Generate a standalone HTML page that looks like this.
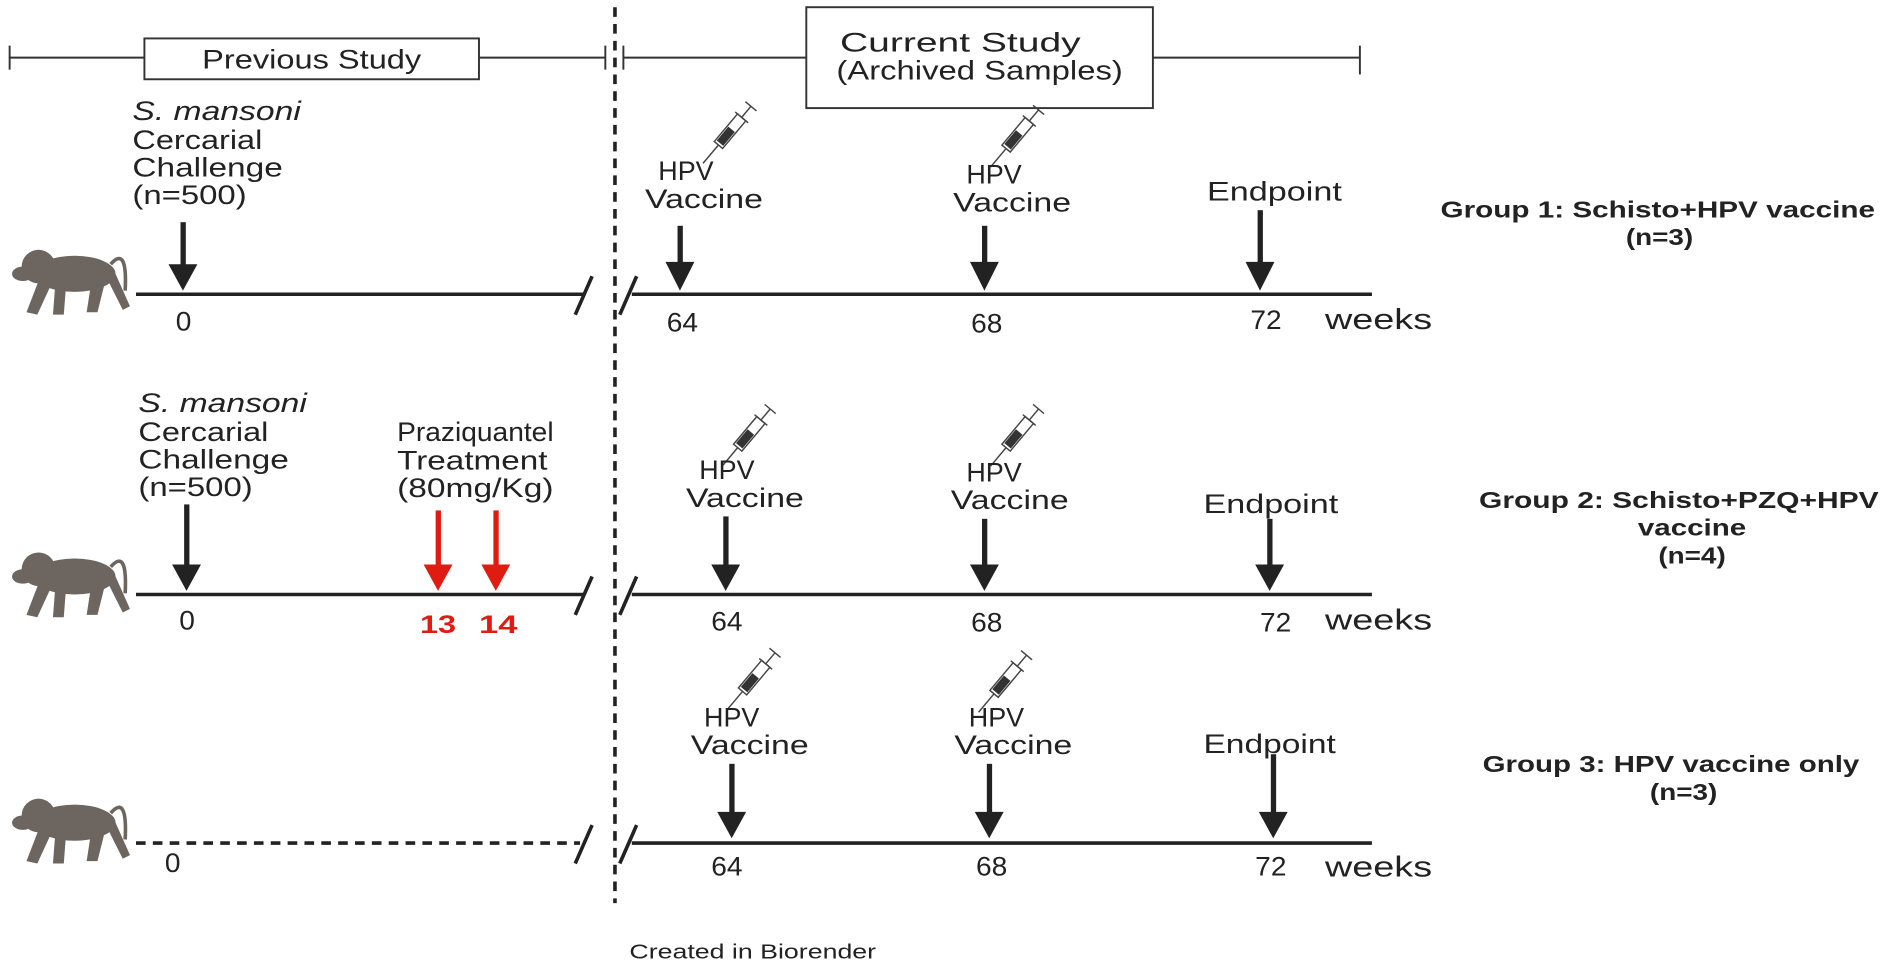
<!DOCTYPE html>
<html><head><meta charset="utf-8"><style>
html,body{margin:0;padding:0;background:#fff;}
svg{display:block;}
text{font-family:"Liberation Sans",sans-serif;fill:#222;}
</style></head><body>
<svg width="1887" height="968" viewBox="0 0 1568 806" preserveAspectRatio="none" xmlns="http://www.w3.org/2000/svg">
<defs>
<g id="syr" fill="none" stroke="#444" stroke-width="1.2">
 <line x1="-34" y1="0" x2="-14" y2="0"/>
 <rect x="-14" y="-4.5" width="30" height="9" fill="#fff"/>
 <rect x="-12" y="-3.5" width="15" height="7" fill="#333" stroke="none"/>
 <line x1="16" y1="0" x2="28" y2="0"/>
 <line x1="28" y1="-6" x2="28" y2="6"/>
 <line x1="16" y1="-7" x2="16" y2="7"/>
</g>
<g id="monkey" fill="#6d6560">
 <ellipse cx="58" cy="30" rx="34" ry="15"/>
 <ellipse cx="28" cy="24" rx="14" ry="14"/>
 <ellipse cx="15" cy="30" rx="9" ry="6"/>
 <path d="M28 36 L18 62 L27 64 L38 40 Z"/>
 <path d="M42 38 L40 64 L49 64 L51 38 Z"/>
 <path d="M72 36 L68 62 L77 62 L83 38 Z"/>
 <path d="M84 32 L98 60 L104 57 L92 30 Z"/>
 <path d="M88 22 Q102 6 100 44" stroke="#6d6560" stroke-width="3" fill="none"/>
</g>
</defs>

<g stroke="#333" stroke-width="1.6" fill="none">
 <line x1="8" y1="48" x2="120" y2="48"/><line x1="8" y1="38" x2="8" y2="58"/>
 <line x1="398" y1="48" x2="503" y2="48"/><line x1="503" y1="38" x2="503" y2="58"/>
 <line x1="518" y1="38" x2="518" y2="58"/><line x1="518" y1="48" x2="670" y2="48"/>
 <line x1="958" y1="48" x2="1130" y2="48"/><line x1="1130" y1="38" x2="1130" y2="62"/>
 <rect x="120" y="32" width="278" height="34" fill="#fff"/>
 <rect x="670" y="6" width="288" height="84" fill="#fff"/>
</g>
<g font-size="22">
<text x="168" y="57" textLength="182" lengthAdjust="spacingAndGlyphs">Previous Study</text>
<text x="698" y="43" textLength="200" lengthAdjust="spacingAndGlyphs">Current Study</text>
<text x="695" y="66" textLength="238" lengthAdjust="spacingAndGlyphs">(Archived Samples)</text>
</g>

<line x1="511" y1="6" x2="511" y2="752" stroke="#222" stroke-width="3" stroke-dasharray="8,6"/>

<g stroke="#222" stroke-width="3">
 <line x1="113" y1="245" x2="485" y2="245"/><line x1="525" y1="245" x2="1140" y2="245"/>
 <line x1="113" y1="495" x2="485" y2="495"/><line x1="525" y1="495" x2="1140" y2="495"/>
 <line x1="113" y1="702" x2="482" y2="702" stroke-dasharray="8,6"/><line x1="525" y1="702" x2="1140" y2="702"/>
 <line x1="478" y1="262" x2="492" y2="230"/><line x1="515" y1="262" x2="529" y2="230"/>
 <line x1="478" y1="512" x2="492" y2="480"/><line x1="515" y1="512" x2="529" y2="480"/>
 <line x1="478" y1="719" x2="492" y2="687"/><line x1="515" y1="719" x2="529" y2="687"/>
</g>

<g fill="#222">
 <rect x="150" y="185" width="4.4" height="40"/><polygon points="140,220 164,220 152,242"/>
 <rect x="563" y="188" width="4.4" height="35"/><polygon points="553,218 577,218 565,242"/>
 <rect x="816" y="188" width="4.4" height="35"/><polygon points="806,218 830,218 818,242"/>
 <rect x="1045" y="175" width="4.4" height="48"/><polygon points="1035,218 1059,218 1047,242"/>
 <rect x="153" y="420" width="4.4" height="55"/><polygon points="143,470 167,470 155,492"/>
 <rect x="601" y="430" width="4.4" height="45"/><polygon points="591,470 615,470 603,492"/>
 <rect x="816" y="432" width="4.4" height="43"/><polygon points="806,470 830,470 818,492"/>
 <rect x="1053" y="432" width="4.4" height="43"/><polygon points="1043,470 1067,470 1055,492"/>
 <rect x="606" y="636" width="4.4" height="45"/><polygon points="596,676 620,676 608,698"/>
 <rect x="820" y="636" width="4.4" height="45"/><polygon points="810,676 834,676 822,698"/>
 <rect x="1056" y="628" width="4.4" height="53"/><polygon points="1046,676 1070,676 1058,698"/>
</g>
<g fill="#e01b12">
 <rect x="362" y="425" width="4.4" height="50"/><polygon points="352,470 376,470 364,492"/>
 <rect x="410" y="425" width="4.4" height="50"/><polygon points="400,470 424,470 412,492"/>
</g>

<use href="#syr" transform="translate(606,110) rotate(-50)"/>
<use href="#syr" transform="translate(845,113) rotate(-50)"/>
<use href="#syr" transform="translate(622,362) rotate(-50)"/>
<use href="#syr" transform="translate(845,362) rotate(-50)"/>
<use href="#syr" transform="translate(626,565) rotate(-50)"/>
<use href="#syr" transform="translate(835,567) rotate(-50)"/>

<use href="#monkey" transform="translate(4,198)"/>
<use href="#monkey" transform="translate(4,450)"/>
<use href="#monkey" transform="translate(4,655)"/>

<g font-size="22">
 <text x="110" y="100" font-style="italic" textLength="140" lengthAdjust="spacingAndGlyphs">S. mansoni</text>
 <text x="110" y="124" textLength="108" lengthAdjust="spacingAndGlyphs">Cercarial</text>
 <text x="110" y="147" textLength="125" lengthAdjust="spacingAndGlyphs">Challenge</text>
 <text x="110" y="170" textLength="95" lengthAdjust="spacingAndGlyphs">(n=500)</text>
 <text x="146" y="275" textLength="13" lengthAdjust="spacingAndGlyphs">0</text>
 <text x="547" y="150" textLength="46" lengthAdjust="spacingAndGlyphs">HPV</text>
 <text x="536" y="173" textLength="98" lengthAdjust="spacingAndGlyphs">Vaccine</text>
 <text x="803" y="153" textLength="46" lengthAdjust="spacingAndGlyphs">HPV</text>
 <text x="792" y="176" textLength="98" lengthAdjust="spacingAndGlyphs">Vaccine</text>
 <text x="1003" y="167" textLength="112" lengthAdjust="spacingAndGlyphs">Endpoint</text>
 <text x="554" y="276" textLength="26" lengthAdjust="spacingAndGlyphs">64</text>
 <text x="807" y="277" textLength="26" lengthAdjust="spacingAndGlyphs">68</text>
 <text x="1039" y="274" textLength="26" lengthAdjust="spacingAndGlyphs">72</text>
 <text x="1101" y="274" font-size="24" textLength="89" lengthAdjust="spacingAndGlyphs">weeks</text>

 <text x="115" y="343" font-style="italic" textLength="140" lengthAdjust="spacingAndGlyphs">S. mansoni</text>
 <text x="115" y="367" textLength="108" lengthAdjust="spacingAndGlyphs">Cercarial</text>
 <text x="115" y="390" textLength="125" lengthAdjust="spacingAndGlyphs">Challenge</text>
 <text x="115" y="413" textLength="95" lengthAdjust="spacingAndGlyphs">(n=500)</text>
 <text x="149" y="524" textLength="13" lengthAdjust="spacingAndGlyphs">0</text>
 <text x="330" y="367" textLength="130" lengthAdjust="spacingAndGlyphs">Praziquantel</text>
 <text x="330" y="391" textLength="125" lengthAdjust="spacingAndGlyphs">Treatment</text>
 <text x="330" y="414" textLength="130" lengthAdjust="spacingAndGlyphs">(80mg/Kg)</text>
 <text x="581" y="399" textLength="46" lengthAdjust="spacingAndGlyphs">HPV</text>
 <text x="570" y="422" textLength="98" lengthAdjust="spacingAndGlyphs">Vaccine</text>
 <text x="803" y="401" textLength="46" lengthAdjust="spacingAndGlyphs">HPV</text>
 <text x="790" y="424" textLength="98" lengthAdjust="spacingAndGlyphs">Vaccine</text>
 <text x="1000" y="427" textLength="112" lengthAdjust="spacingAndGlyphs">Endpoint</text>
 <text x="591" y="525" textLength="26" lengthAdjust="spacingAndGlyphs">64</text>
 <text x="807" y="526" textLength="26" lengthAdjust="spacingAndGlyphs">68</text>
 <text x="1047" y="526" textLength="26" lengthAdjust="spacingAndGlyphs">72</text>
 <text x="1101" y="524" font-size="24" textLength="89" lengthAdjust="spacingAndGlyphs">weeks</text>

 <text x="137" y="726" textLength="13" lengthAdjust="spacingAndGlyphs">0</text>
 <text x="585" y="605" textLength="46" lengthAdjust="spacingAndGlyphs">HPV</text>
 <text x="574" y="628" textLength="98" lengthAdjust="spacingAndGlyphs">Vaccine</text>
 <text x="805" y="605" textLength="46" lengthAdjust="spacingAndGlyphs">HPV</text>
 <text x="793" y="628" textLength="98" lengthAdjust="spacingAndGlyphs">Vaccine</text>
 <text x="1000" y="627" textLength="110" lengthAdjust="spacingAndGlyphs">Endpoint</text>
 <text x="591" y="729" textLength="26" lengthAdjust="spacingAndGlyphs">64</text>
 <text x="811" y="729" textLength="26" lengthAdjust="spacingAndGlyphs">68</text>
 <text x="1043" y="729" textLength="26" lengthAdjust="spacingAndGlyphs">72</text>
 <text x="1101" y="730" font-size="24" textLength="89" lengthAdjust="spacingAndGlyphs">weeks</text>
</g>
<g font-size="21" font-weight="bold">
 <text x="349" y="527" textLength="30" lengthAdjust="spacingAndGlyphs" style="fill:#e01b12">13</text>
 <text x="398" y="527" textLength="32" lengthAdjust="spacingAndGlyphs" style="fill:#e01b12">14</text>
</g>

<g font-size="19" font-weight="bold">
 <text x="1197" y="181" textLength="361" lengthAdjust="spacingAndGlyphs">Group 1: Schisto+HPV vaccine</text>
 <text x="1351" y="204" textLength="56" lengthAdjust="spacingAndGlyphs">(n=3)</text>
 <text x="1229" y="423" textLength="332" lengthAdjust="spacingAndGlyphs">Group 2: Schisto+PZQ+HPV</text>
 <text x="1361" y="446" textLength="90" lengthAdjust="spacingAndGlyphs">vaccine</text>
 <text x="1378" y="469" textLength="56" lengthAdjust="spacingAndGlyphs">(n=4)</text>
 <text x="1232" y="643" textLength="313" lengthAdjust="spacingAndGlyphs">Group 3: HPV vaccine only</text>
 <text x="1371" y="666" textLength="56" lengthAdjust="spacingAndGlyphs">(n=3)</text>
</g>
<text x="523" y="798" font-size="17" textLength="205" lengthAdjust="spacingAndGlyphs">Created in Biorender</text>
</svg>
</body></html>
